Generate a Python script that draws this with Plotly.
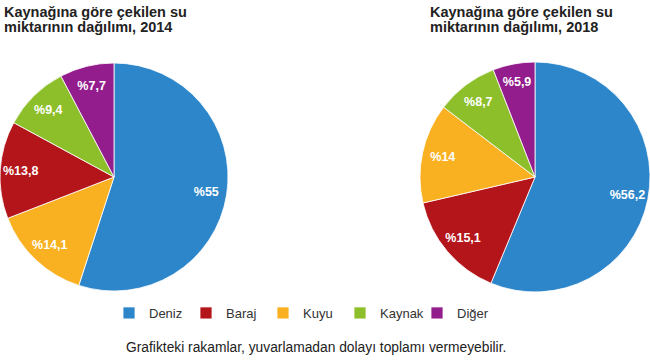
import plotly.graph_objects as go

categories = ["Deniz", "Baraj", "Kuyu", "Kaynak", "Diğer"]
values_2014 = [55, 13.8, 14.1, 9.4, 7.7]
values_2018 = [56.2, 15.1, 14, 8.7, 5.9]
text_2014 = ["%55", "%13,8", "%14,1", "%9,4", "%7,7"]
text_2018 = ["%56,2", "%15,1", "%14", "%8,7", "%5,9"]
colors = ["#2D86C9", "#B4151A", "#F9B121", "#8DBF2B", "#941D8D"]
title_2014 = ["Kaynağına göre çekilen su", "miktarının dağılımı, 2014"]
title_2018 = ["Kaynağına göre çekilen su", "miktarının dağılımı, 2018"]
footnote = "Grafikteki rakamlar, yuvarlamadan dolayı toplamı vermeyebilir."

W, H = 650, 360
FONT = "Liberation Sans, Arial"
YDOM = [68 / H, 298 / H]


def base_pie(values, xdom, show):
    return go.Pie(
        labels=categories, values=values, textinfo="none",
        marker=dict(colors=colors, line=dict(color="white", width=0.8)),
        sort=True, direction="clockwise", rotation=0,
        domain=dict(x=xdom, y=YDOM), showlegend=show,
        hoverinfo="label+percent",
    )


def label_ring(values, texts, xdom):
    # transparent ring carrying the slice labels, placed toward the outer edge
    return go.Pie(
        labels=categories, values=values, text=texts, hole=0.64,
        textinfo="text", textposition="inside", insidetextorientation="horizontal",
        textfont=dict(family=FONT, size=12.5, color="white", weight="bold"),
        marker=dict(colors=["rgba(0,0,0,0)"] * len(categories), line=dict(width=0)),
        sort=True, direction="clockwise", rotation=0,
        domain=dict(x=xdom, y=YDOM), showlegend=False, hoverinfo="skip",
    )


left_dom = [0.0, 228 / W]
right_dom = [420 / W, 1.0]

fig = go.Figure()
fig.add_trace(base_pie(values_2018, right_dom, True))
fig.add_trace(base_pie(values_2014, left_dom, False))
fig.add_trace(label_ring(values_2018, text_2018, right_dom))
fig.add_trace(label_ring(values_2014, text_2014, left_dom))

annotations = []
for lines, x0 in ((title_2014, 2), (title_2018, 428)):
    for i, line in enumerate(lines):
        annotations.append(dict(
            text=line, x=x0 / W, y=1 - (22 + 15 * i) / H, xref="paper", yref="paper",
            xanchor="left", yanchor="bottom", showarrow=False, align="left",
            font=dict(family=FONT, size=14.5, color="#222", weight="bold")))
annotations.append(dict(
    text=footnote, x=124 / W, y=(H - 347) / H, xref="paper", yref="paper",
    xanchor="left", yanchor="middle", showarrow=False, align="left",
    font=dict(family=FONT, size=13.8, color="#222")))

fig.update_layout(
    width=W, height=H,
    margin=dict(l=0, r=0, t=0, b=0),
    paper_bgcolor="white", plot_bgcolor="white",
    font=dict(family=FONT, color="#222"),
    legend=dict(
        orientation="h", x=109 / W, xanchor="left", y=(H - 313) / H, yanchor="middle",
        font=dict(family=FONT, size=13, color="#333"),
        entrywidth=32, entrywidthmode="pixels", traceorder="normal",
        itemclick=False, itemdoubleclick=False,
    ),
    annotations=annotations,
)

fig.write_html("out.html")
